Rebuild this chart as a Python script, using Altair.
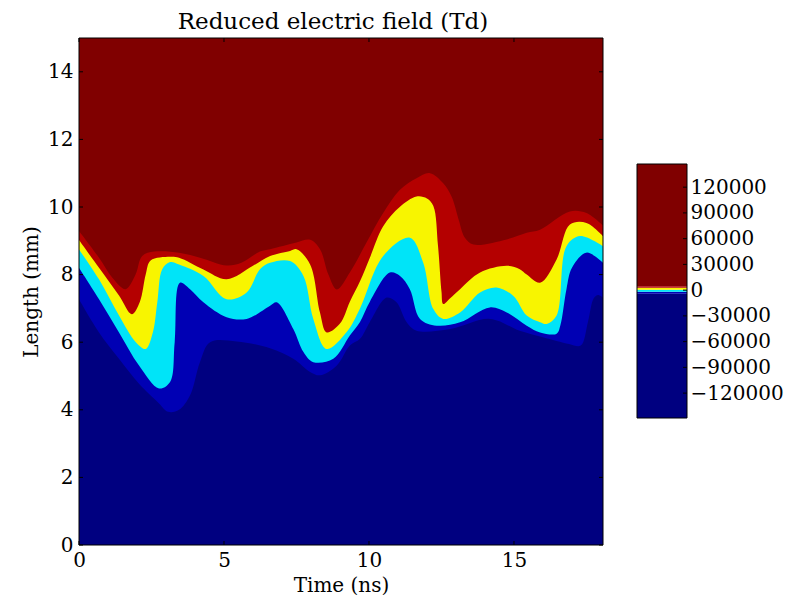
import altair as alt
import pandas as pd

# ---- data: band boundaries (Length in mm) vs time (ns) ----
# top of red band (boundary with dark red)
b5_t = [0, 0.69, 1.15, 1.61, 1.95, 2.18, 2.6, 3.45, 4.17, 5.09, 5.6, 6.24, 6.59, 7.5, 7.97, 8.31, 8.6, 8.89,
        9.34, 9.91, 10.49, 11.06, 11.64, 12.1, 12.56, 12.85, 13.1, 13.3, 13.6, 14.75, 15.44, 15.9, 16.93, 17.5, 18.07]
b5_v = [9.29, 8.5, 7.91, 7.57, 8.0, 8.55, 8.68, 8.65, 8.5, 8.27, 8.35, 8.68, 8.75, 8.95, 9.03, 8.75, 8.0, 7.56,
        8.06, 8.94, 9.82, 10.5, 10.85, 11.0, 10.7, 10.3, 9.6, 9.1, 8.89, 9.04, 9.24, 9.33, 9.87, 9.82, 9.45]
# top of yellow band
b4_t = [0, 0.69, 1.38, 1.82, 2.1, 2.3, 2.47, 3.14, 3.45, 4.29, 5.09, 6.0, 6.59, 7.28, 7.5, 7.97, 8.31, 8.54, 9.0,
        9.34, 9.69, 10.03, 10.49, 11.06, 11.64, 12.0, 12.22, 12.38, 12.5, 12.56, 12.8, 13.14, 13.83, 14.75, 15.2,
        15.44, 15.9, 16.47, 16.93, 17.5, 18.07]
b4_v = [9.02, 8.2, 7.38, 6.83, 7.2, 8.0, 8.42, 8.53, 8.5, 8.15, 7.86, 8.26, 8.55, 8.7, 8.75, 8.3, 6.88, 6.29, 6.55,
        7.2, 7.8, 8.5, 9.43, 10.0, 10.31, 10.25, 10.03, 8.85, 7.5, 7.13, 7.3, 7.57, 8.06, 8.26, 8.16,
        8.0, 7.76, 8.45, 9.48, 9.53, 9.14]
# top of cyan band
b3_t = [0, 0.69, 1.38, 1.96, 2.3, 2.55, 2.7, 2.87, 3.14, 3.45, 4.29, 5.09, 5.78, 6.24, 6.59, 7.28, 7.74, 8.08,
        8.54, 9.23, 9.69, 10.49, 11.41, 11.87, 12.22, 12.56, 13.14, 13.83, 14.4, 14.98, 15.44, 15.9, 16.13, 16.47,
        16.81, 17.28, 18.07]
b3_v = [8.74, 7.86, 6.79, 6.0, 5.8, 6.3, 7.18, 8.16, 8.37, 8.3, 7.96, 7.27, 7.47, 8.16, 8.35, 8.4, 7.96, 6.69,
        5.8, 6.3, 7.0, 8.55, 9.09, 8.35, 6.98, 6.69, 6.88, 7.47, 7.62, 7.37, 6.79, 6.59, 6.54, 6.79,
        8.84, 9.14, 8.84]
# top of blue band
b2_t = [0, 0.69, 1.38, 2.07, 2.76, 3.14, 3.3, 3.48, 3.83, 4.29, 5.09, 5.78, 6.59, 6.82, 7.39, 7.74, 8.08, 8.77,
        9.34, 9.69, 10.03, 10.72, 11.07, 11.41, 11.76, 12.33, 13.14, 14.17, 14.75, 15.44, 15.9, 16.47, 16.6,
        16.81, 17.0, 17.5, 18.07]
b2_v = [8.2, 7.27, 6.29, 5.31, 4.63, 4.82, 6.0, 7.76, 7.57, 7.18, 6.74, 6.69, 7.08, 7.18, 6.39, 5.71, 5.41, 5.51,
        6.2, 6.6, 7.2, 8.06, 7.96, 7.57, 6.69, 6.49, 6.59, 7.03, 6.88, 6.49, 6.29, 6.25, 6.5,
        7.57, 8.2, 8.65, 8.35]
# top of navy band
b1_t = [0, 0.69, 1.38, 2.07, 2.76, 3.08, 3.45, 3.83, 4.17, 4.52, 5.44, 6.59, 7.39, 7.97, 8.31, 8.89, 9.34, 9.69,
        10.03, 10.61, 10.95, 11.3, 11.64, 12.8, 14.17, 15.2, 16.0, 16.9, 17.3, 17.55, 17.75, 17.9, 18.07]
b1_v = [7.27, 6.29, 5.51, 4.77, 4.19, 3.94, 4.0, 4.43, 5.41, 6.0, 6.02, 5.82, 5.51, 5.12, 5.02, 5.31, 5.9, 6.1,
        6.6, 7.32, 7.18, 6.59, 6.34, 6.39, 6.69, 6.34, 6.15, 5.95, 5.9, 6.6, 7.3, 7.4, 7.32]

band_colors = ["#000080", "#0000b4", "#00e4f8", "#f8f500", "#b40000", "#800000"]

# colorbar levels (Td)
cbar_levels = [-149000, -4300, -1980, 350, 2680, 4660, 147000]
cbar_ticks = [-120000, -90000, -60000, -30000, 0, 30000, 60000, 90000, 120000]

x_ticks = [0, 5, 10, 15]
y_ticks = [0, 2, 4, 6, 8, 10, 12, 14]
x_max = 18.07
y_max = 15

FONT = "DejaVu Serif"
W, H = 524, 507

xs = alt.Scale(domain=[0, x_max], nice=False, zero=False)
ys = alt.Scale(domain=[0, y_max], nice=False)

x_axis = alt.Axis(values=x_ticks, ticks=False, domain=False, grid=False, labelFont=FONT, labelFontSize=20,
                  labelColor="black", labelPadding=5, labelFlush=False, labelOverlap=False,
                  title="Time (ns)", titleFont=FONT, titleFontSize=20,
                  titleFontWeight="normal", titleColor="black", titlePadding=5, format="d")
y_axis = alt.Axis(values=y_ticks, ticks=False, domain=False, grid=False, labelFont=FONT, labelFontSize=20,
                  labelColor="black", labelPadding=6, labelFlush=False, labelOverlap=False,
                  title="Length (mm)", titleFont=FONT, titleFontSize=20,
                  titleFontWeight="normal", titleColor="black", titlePadding=6, format="d")

X = lambda: alt.X("t:Q", scale=xs, axis=x_axis)
Y = lambda: alt.Y("v:Q", scale=ys, axis=y_axis)


def band(ts, vs, color):
    df = pd.DataFrame({"t": ts, "v": vs})
    return alt.Chart(df).mark_area(color=color, interpolate="catmull-rom", opacity=1, clip=True).encode(
        x=X(), y=Y())


layers = [
    band(b5_t, b5_v, band_colors[4]),
    band(b4_t, b4_v, band_colors[3]),
    band(b3_t, b3_v, band_colors[2]),
    band(b2_t, b2_v, band_colors[1]),
    band(b1_t, b1_v, band_colors[0]),
]

xt = pd.DataFrame({"t": x_ticks})
yt = pd.DataFrame({"v": y_ticks})
tick_bottom = alt.Chart(xt).mark_rule(color="black", strokeWidth=1).encode(
    x=X(), y=alt.value(H), y2=alt.value(H - 4))
tick_top = alt.Chart(xt).mark_rule(color="black", strokeWidth=1).encode(
    x=X(), y=alt.value(0), y2=alt.value(4))
tick_left = alt.Chart(yt).mark_rule(color="black", strokeWidth=1).encode(
    y=Y(), x=alt.value(0), x2=alt.value(4))
tick_right = alt.Chart(yt).mark_rule(color="black", strokeWidth=1).encode(
    y=Y(), x=alt.value(W), x2=alt.value(W - 4))
border = alt.Chart(pd.DataFrame({"a": [0]})).mark_rect(fill=None, stroke="black", strokeWidth=1).encode(
    x=alt.value(0), x2=alt.value(W), y=alt.value(0), y2=alt.value(H))

main = alt.layer(*layers, tick_bottom, tick_top, tick_left, tick_right, border).properties(
    width=W, height=H,
    title=alt.TitleParams("Reduced electric field (Td)", font=FONT, fontSize=23, fontWeight="normal",
                          color="black", offset=4, dx=-8),
    view=alt.ViewBackground(fill=band_colors[5], stroke=None),
)

# ---- colorbar ----
CB_TOP, CB_BOT = 126, 380  # pixel extent of the bar inside the 507px panel
per_px = (cbar_levels[-1] - cbar_levels[0]) / (CB_BOT - CB_TOP)
cb_hi = cbar_levels[-1] + CB_TOP * per_px
cb_lo = cbar_levels[0] - (H - CB_BOT) * per_px
cs = alt.Scale(domain=[cb_lo, cb_hi], nice=False, zero=False)
cb_axis = alt.Axis(values=cbar_ticks, orient="right", ticks=False, domain=False, grid=False,
                   labelFont=FONT, labelFontSize=20, labelColor="black", labelPadding=3,
                   labelOverlap=False, format="d", title=None)
CY = lambda f: alt.Y(f, scale=cs, axis=cb_axis)

cb_df = pd.DataFrame({"lo": cbar_levels[:-1], "hi": cbar_levels[1:], "c": band_colors})
cb_rect = alt.Chart(cb_df).mark_rect().encode(
    y=CY("lo:Q"), y2="hi:Q",
    x=alt.value(0), x2=alt.value(50),
    color=alt.Color("c:N", scale=None, legend=None),
)
cb_tick = alt.Chart(pd.DataFrame({"lo": cbar_ticks})).mark_rule(color="black", strokeWidth=1).encode(
    y=CY("lo:Q"), x=alt.value(50), x2=alt.value(46))
cb_border = alt.Chart(pd.DataFrame({"lo": [cbar_levels[0]], "hi": [cbar_levels[-1]]})).mark_rect(
    fill=None, stroke="black", strokeWidth=1).encode(
    y=CY("lo:Q"), y2="hi:Q", x=alt.value(0), x2=alt.value(50))

cbar = alt.layer(cb_rect, cb_tick, cb_border).properties(
    width=50, height=H, view=alt.ViewBackground(stroke=None))

chart = alt.hconcat(main, cbar, spacing=32).properties(
    padding={"left": 13, "top": 2, "right": 0, "bottom": 0},
    background="white",
).configure_view(stroke=None)

chart.save("out.html", embed_options={"renderer": "svg", "actions": False})
